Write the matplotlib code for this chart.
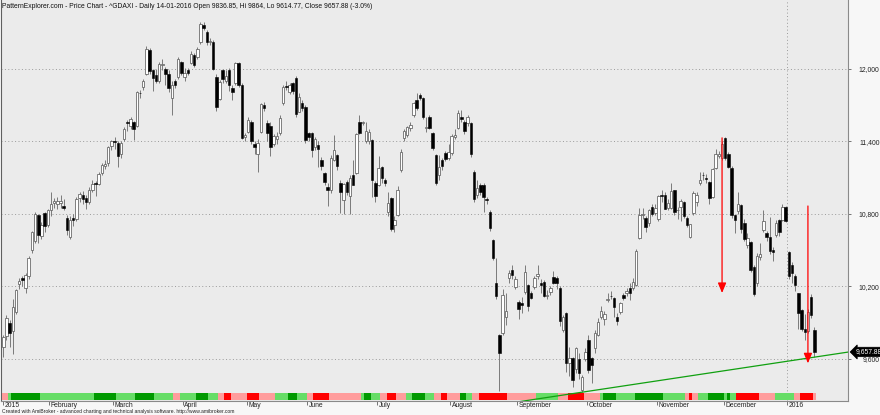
import matplotlib
matplotlib.use('Agg')
import matplotlib.pyplot as plt
import matplotlib.transforms as mtransforms
from matplotlib.patches import Rectangle
import numpy as np
import pandas as pd

plt.rcParams['font.family'] = ['Liberation Sans', 'DejaVu Sans']

# ---------------- data ----------------
holidays = ['2015-04-03', '2015-04-06', '2015-05-01', '2015-05-25',
            '2015-12-24', '2015-12-25', '2015-12-31', '2016-01-01']
dates = pd.bdate_range('2015-01-12', '2016-01-14')
dates = dates[~dates.isin(pd.to_datetime(holidays))]

opens = [
    # Jan 2015
    9700, 9790, 9900, 9830, 9990, 10220, 10270, 10190, 10290, 10500, 10580, 10790, 10620, 10810, 10710,
    # Feb
    10830, 10890, 10880, 10890, 10870, 10770, 10610, 10770, 10760, 10930, 10960, 10930, 10900, 11000, 11060, 11050, 11140, 11200, 11220, 11360,
    # Mar
    11400, 11390, 11300, 11420, 11565, 11530, 11560, 11530, 11800, 11850, 11960, 12160, 11990, 11950, 11900, 12030, 12000, 11960, 11760, 11900, 11930, 12060,
    # Apr
    11930, 11990, 12050, 12115, 12100, 12226, 12364, 12309, 12226, 12226, 11930, 11750, 11990, 11900, 11990, 11840, 11880, 12047, 11870, 11440,
    # May
    11480, 11560, 11380, 11300, 11480, 11700, 11550, 11530, 11380, 11420, 11467, 11716, 11860, 11812, 11881, 11923, 11647, 11716, 11688,
    # Jun
    11467, 11467, 11357, 11371, 11247, 11136, 11026, 11000, 11250, 11288, 11054, 10916, 11067, 10950, 11123, 11136, 11564, 11550, 11400, 11400, 11412, 11054,
    # Jul
    11040, 11192, 11081, 10819, 10929, 10709, 10792, 11164, 11426, 11454, 11509, 11619, 11743, 11785, 11757, 11509, 11605, 11467, 11288, 11123, 11247, 11302, 11261,
    # Aug
    11302, 11440, 11509, 11605, 11564, 11550, 11550, 11150, 10960, 11040, 11040, 10920, 10819, 10585, 10226, 9798, 9812, 9950, 10268, 10337, 10199,
    # Sep
    10074, 10060, 10157, 10212, 10143, 10199, 10290, 10230, 10240, 10120, 10157, 10281, 10268, 10185, 9840, 9978, 9570, 9605, 9520, 9600, 9343, 9600,
    # Oct
    9757, 9605, 9688, 9798, 9950, 9930, 10090, 10125, 10102, 9950, 9991, 10130, 10145, 10185, 10185, 10212, 10599, 10790, 10764, 10723, 10861, 10805,
    # Nov
    10760, 10957, 10957, 10847, 10850, 10999, 10830, 10860, 10902, 10764, 10612, 10805, 10900, 11054, 11120, 11100, 11067, 10943, 11178, 11280, 11260,
    # Dec
    11426, 11300, 11178, 10790, 10828, 10874, 10723, 10543, 10571, 10364, 10226, 10440, 10667, 10640, 10612, 10500, 10626, 10750, 10750, 10855,
    # Jan 2016
    10486, 10378, 10287, 10146, 10005, 9850, 9830, 10110, 9836.85,
]
highs = [
    9800, 9960, 9920, 10100, 10180, 10270, 10290, 10310, 10450, 10660, 10820, 10800, 10730, 10820, 10840,
    10980, 10930, 10940, 10960, 10920, 10790, 10780, 10800, 10940, 10980, 10990, 10960, 11020, 11080, 11070, 11150, 11220, 11250, 11360, 11410,
    11440, 11400, 11400, 11520, 11580, 11600, 11570, 11820, 11830, 11920, 12190, 12170, 12000, 12000, 12060, 12080, 12020, 11990, 11900, 11920, 12100, 12070,
    12010, 12010, 12150, 12130, 12180, 12390, 12390, 12320, 12260, 12240, 11960, 11910, 12000, 11990, 12010, 11870, 12060, 12060, 11880, 11470,
    11600, 11580, 11400, 11420, 11720, 11730, 11580, 11560, 11460, 11480, 11620, 11870, 11900, 11880, 11890, 11940, 11800, 11740, 11700,
    11480, 11480, 11440, 11400, 11270, 11150, 11060, 11290, 11454, 11300, 11080, 11060, 11080, 11120, 11250, 11470, 11620, 11570, 11560, 11500, 11420, 11070,
    11280, 11200, 11100, 10985, 10940, 10780, 11030, 11340, 11500, 11530, 11560, 11730, 11800, 11800, 11770, 11605, 11620, 11480, 11300, 11290, 11260, 11320, 11380,
    11460, 11500, 11660, 11660, 11580, 11620, 11560, 11160, 11081, 11060, 11060, 10940, 10830, 10590, 10433, 9810, 10180, 10150, 10340, 10380, 10290,
    10090, 10110, 10380, 10220, 10160, 10290, 10380, 10260, 10250, 10170, 10200, 10330, 10290, 10200, 9960, 9990, 9700, 9620, 9700, 9650, 9470, 9690,
    9800, 9620, 9840, 9940, 10040, 10000, 10150, 10160, 10110, 9980, 10070, 10150, 10190, 10230, 10270, 10510, 10850, 10850, 10780, 10840, 10880, 10880,
    10960, 11000, 10980, 10920, 11060, 11000, 10860, 10920, 10910, 10780, 10720, 10990, 10980, 11150, 11150, 11130, 11070, 11180, 11340, 11320, 11400,
    11440, 11310, 11200, 10800, 10985, 10880, 10760, 10640, 10580, 10380, 10480, 10560, 10833, 10660, 10778, 10530, 10750, 10760, 10880, 10870,
    10490, 10400, 10300, 10150, 10010, 9970, 10010, 10140, 9864,
]
lows = [
    9620, 9760, 9700, 9640, 9970, 10180, 10200, 10150, 10260, 10480, 10560, 10560, 10590, 10650, 10690,
    10780, 10850, 10840, 10850, 10830, 10630, 10590, 10700, 10740, 10900, 10880, 10840, 10880, 10980, 10950, 11040, 11120, 11170, 11200, 11330,
    11340, 11190, 11260, 11400, 11490, 11500, 11410, 11520, 11760, 11830, 11950, 11960, 11820, 11880, 11880, 11990, 11870, 11810, 11620, 11840, 11920, 11950,
    11900, 11950, 12040, 12020, 12080, 12210, 12320, 12200, 12200, 11990, 11650, 11740, 11880, 11880, 11820, 11740, 11870, 11850, 11420, 11400,
    11470, 11380, 11300, 11150, 11470, 11650, 11400, 11280, 11360, 11380, 11450, 11700, 11830, 11790, 11790, 11600, 11640, 11650, 11390,
    11400, 11270, 11330, 11190, 11160, 11040, 10870, 10970, 11240, 11160, 10810, 10800, 10960, 10800, 11040, 11130, 11460, 11540, 11390, 11380, 10940, 10900,
    11030, 11060, 11030, 10780, 10660, 10650, 10780, 11150, 11400, 11440, 11490, 11600, 11660, 11740, 11590, 11480, 11500, 11330, 11040, 11080, 11160, 11240, 11250,
    11290, 11420, 11500, 11560, 11460, 11530, 11270, 10900, 10930, 10960, 10819, 10880, 10660, 10420, 10100, 9338, 9800, 9880, 10230, 10260, 10180,
    9930, 9980, 10140, 10000, 10100, 10180, 10260, 10150, 10110, 10100, 10130, 10220, 10180, 9870, 9820, 9495, 9460, 9371, 9480, 9430, 9325, 9580,
    9480, 9398, 9650, 9790, 9930, 9880, 10070, 10100, 9950, 9880, 9970, 10090, 10120, 10090, 10170, 10200, 10590, 10760, 10650, 10700, 10780, 10790,
    10740, 10900, 10840, 10830, 10840, 10790, 10760, 10740, 10770, 10690, 10600, 10790, 10870, 11040, 11080, 11060, 10880, 10930, 11170, 11260, 11250,
    11250, 11180, 10770, 10640, 10800, 10640, 10580, 10520, 10320, 10120, 10200, 10420, 10650, 10580, 10470, 10410, 10610, 10620, 10740, 10730,
    10260, 10230, 10160, 9846, 9830, 9760, 9815, 9940, 9614.77,
]
closes = [
    9782, 9941, 9818, 10032, 10168, 10242, 10257, 10299, 10436, 10649, 10799, 10628, 10710, 10700, 10830,
    10880, 10910, 10911, 10905, 10846, 10664, 10752, 10753, 10920, 10963, 10924, 10896, 11001, 11051, 11050, 11131, 11206, 11211, 11353, 11402,
    11394, 11280, 11390, 11504, 11551, 11582, 11500, 11806, 11799, 11901, 12168, 11980, 11922, 11899, 12040, 12041, 11961, 11843, 11865, 11868, 12086, 11967,
    11968, 11967, 12123, 12036, 12166, 12375, 12339, 12227, 12231, 11998, 11689, 11892, 11918, 11939, 11867, 11811, 12047, 11867, 11432, 11454,
    11580, 11400, 11351, 11390, 11710, 11673, 11472, 11351, 11447, 11447, 11595, 11853, 11849, 11864, 11815, 11626, 11771, 11673, 11413,
    11436, 11329, 11420, 11340, 11197, 11064, 11001, 11265, 11333, 11197, 10984, 11045, 10978, 11100, 11040, 11460, 11471, 11560, 11490, 11480, 11083, 10945,
    11178, 11099, 11058, 10890, 10676, 10747, 10996, 11316, 11484, 11516, 11540, 11717, 11673, 11760, 11604, 11520, 11513, 11347, 11057, 11190, 11199, 11257, 11309,
    11444, 11456, 11636, 11585, 11490, 11604, 11293, 10924, 11015, 10985, 10940, 10915, 10681, 10433, 10124, 9648, 10128, 9998, 10315, 10298, 10259,
    10016, 10048, 10318, 10038, 10108, 10271, 10303, 10210, 10124, 10131, 10188, 10227, 10229, 9916, 9948, 9570, 9612, 9427, 9688, 9483, 9450, 9660,
    9509, 9553, 9815, 9903, 9996, 9970, 10096, 10118, 10032, 9915, 10064, 10104, 10164, 10147, 10238, 10491, 10795, 10801, 10692, 10831, 10801, 10850,
    10950, 10951, 10845, 10887, 10988, 10815, 10833, 10907, 10783, 10708, 10713, 10971, 10959, 11085, 11119, 11092, 10933, 11169, 11300, 11293, 11382,
    11261, 11190, 10789, 10752, 10886, 10673, 10592, 10598, 10340, 10139, 10450, 10470, 10738, 10608, 10497, 10489, 10727, 10653, 10860, 10743,
    10283, 10310, 10214, 9979, 9849, 9825, 9985, 9960, 9657.88,
]

# trend ribbon at the bottom: run-length (state, number of bars)
ribbon_runs = [('P', 2), ('L', 1), ('G', 9), ('L', 17), ('G', 7), ('L', 6), ('G', 6), ('L', 6), ('P', 2),
               ('L', 5), ('G', 4), ('L', 3), ('P', 2), ('R', 2), ('P', 5), ('R', 4), ('P', 5), ('L', 4),
               ('G', 3), ('L', 3), ('P', 2), ('R', 5), ('P', 10), ('L', 1), ('G', 2), ('L', 3), ('P', 2),
               ('R', 3), ('P', 3), ('L', 2), ('G', 4), ('L', 3), ('P', 2), ('R', 2), ('P', 4), ('G', 2),
               ('L', 2), ('P', 2), ('R', 9), ('P', 9), ('L', 7), ('P', 3), ('R', 5), ('P', 5), ('L', 1),
               ('G', 4), ('L', 6), ('G', 9), ('L', 7), ('P', 1), ('R', 1), ('P', 2), ('L', 3), ('G', 5),
               ('L', 1), ('G', 1), ('L', 2), ('R', 7), ('P', 5), ('L', 6), ('P', 2), ('R', 4), ('P', 1)]
ribbon_colors = {'G': '#009900', 'L': '#66dd66', 'R': '#ff0000', 'P': '#ff9c9c'}

price_ticks = [9600, 10200, 10800, 11400, 12000]

# signal arrows (bar date, start price, end price)
arrow_dates = ['2015-11-30', '2016-01-12']
arrow_from = [11430, 10866]
arrow_to = [10146, 9564]

# trendline anchor points (date, price)
trend_dates = ['2015-09-29', '2016-01-14']
trend_prices = [9325, 9614.77]

title = ("PatternExplorer.com - Price Chart - ^GDAXI - Daily 14-01-2016 Open 9836.85, "
         "Hi 9864, Lo 9614.77, Close 9657.88 (-3.0%)")
footer = ("Created with AmiBroker - advanced charting and technical analysis software. "
          "http://www.amibroker.com")

# ---------------- figure ----------------
W, H = 880, 415
fig = plt.figure(figsize=(W / 100, H / 100), dpi=100, facecolor='#f7f7f7')
ax_left, ax_right, ax_bottom_px = 1, 848, 401
ax = fig.add_axes([ax_left / W, (H - ax_bottom_px) / H, (ax_right - ax_left) / W, ax_bottom_px / H])
ax.set_facecolor('#ebebeb')

x = np.arange(len(closes))
o = np.array(opens, float); h = np.array(highs, float)
l = np.array(lows, float); c = np.array(closes, float)

ax.set_xlim(-0.72, 265.6)
ax.set_ylim(9252, 12571)

# grid
for p in price_ticks:
    ax.axhline(p, color='#9a9a9a', lw=0.7, ls=(0, (1, 2.5)), zorder=1)

# month ticks
month_first = [i for i in range(len(dates)) if i == 0 or dates[i].month != dates[i - 1].month]
tick_pos = [0 if i == 0 else i - 0.5 for i in month_first]
tick_lab = [str(dates[i].year) if dates[i].month == 1 else dates[i].strftime('%B') for i in month_first]
for i, lab in zip(month_first, tick_lab):
    if lab.isdigit() and i > 0:
        ax.axvline(i - 0.5, color='#9a9a9a', lw=0.7, ls=(0, (1, 2.5)), zorder=1)

# wicks
ax.vlines(x, l, h, color='#7a7a7a', lw=0.7, zorder=2)
# bodies
up = c >= o
body_bot = np.minimum(o, c)
body_h = np.maximum(np.abs(c - o), 4)
ax.bar(x[up], body_h[up], bottom=body_bot[up], width=0.78, color='white',
       edgecolor='#606060', linewidth=0.55, zorder=3)
ax.bar(x[~up], body_h[~up], bottom=body_bot[~up], width=0.78, color='black',
       edgecolor='black', linewidth=0.4, zorder=3)

# ribbon
trans_xa = mtransforms.blended_transform_factory(ax.transData, ax.transAxes)
start = 0
for state, n in ribbon_runs:
    ax.add_patch(Rectangle((start - 0.5, 1 / 401), n, 7 / 401, transform=trans_xa,
                           facecolor=ribbon_colors[state], edgecolor='none', zorder=4))
    start += n

# trendline
date_idx = {d.strftime('%Y-%m-%d'): i for i, d in enumerate(dates)}
tx = [date_idx[d] for d in trend_dates]
slope = (trend_prices[1] - trend_prices[0]) / (tx[1] - tx[0])
xs = np.array([140, 265.6])
ax.plot(xs, trend_prices[0] + slope * (xs - tx[0]), color='#10a010', lw=0.9, zorder=5)

# arrows
for d, p0, p1 in zip(arrow_dates, arrow_from, arrow_to):
    xi = date_idx[d]
    ax.annotate('', xy=(xi, p1), xytext=(xi, p0),
                arrowprops=dict(arrowstyle='-|>,head_length=0.6,head_width=0.25',
                                color='#ff0000', lw=0.9, shrinkA=0, shrinkB=0), zorder=6)

# axes styling
ax.spines['top'].set_visible(False)
ax.spines['left'].set_color('#606060')
ax.spines['bottom'].set_color('#8a8a8a')
ax.spines['right'].set_color('#8a8a8a')
for s in ['left', 'bottom', 'right']:
    ax.spines[s].set_linewidth(0.8)

ax.yaxis.tick_right()
ax.set_yticks(price_ticks)
ax.set_yticklabels([f'{p:,}' for p in price_ticks])
ax.tick_params(axis='y', length=2.2, width=0.6, color='#606060', pad=20.5, labelsize=4.9,
               labelcolor='#222222')
for lab in ax.get_yticklabels():
    lab.set_horizontalalignment('right')

ax.set_xticks(tick_pos)
ax.set_xticklabels(tick_lab)
ax.tick_params(axis='x', length=3, width=0.6, color='#606060', pad=-2.6, labelsize=4.9,
               labelcolor='#222222')
offset = mtransforms.ScaledTranslation(1.5 / 100, 0, fig.dpi_scale_trans)
for lab in ax.get_xticklabels():
    lab.set_horizontalalignment('left')
    lab.set_transform(lab.get_transform() + offset)

# last price label
trans_ay = mtransforms.blended_transform_factory(ax.transAxes, ax.transData)
ax.text(1.0085, closes[-1], f'{closes[-1]:,.2f}', transform=trans_ay, ha='left', va='center',
        color='white', fontsize=4.9, zorder=10,
        bbox=dict(boxstyle='larrow,pad=0.18', fc='black', ec='black', lw=0.5))

# title and footer
fig.text(2 / W, 1 - 6.5 / H, title, ha='left', va='center', fontsize=4.85, color='#111111')
fig.text(2 / W, 1 - 411.5 / H, footer, ha='left', va='center', fontsize=3.6, color='#222222')

fig.savefig('out.png', dpi=100, facecolor=fig.get_facecolor())
